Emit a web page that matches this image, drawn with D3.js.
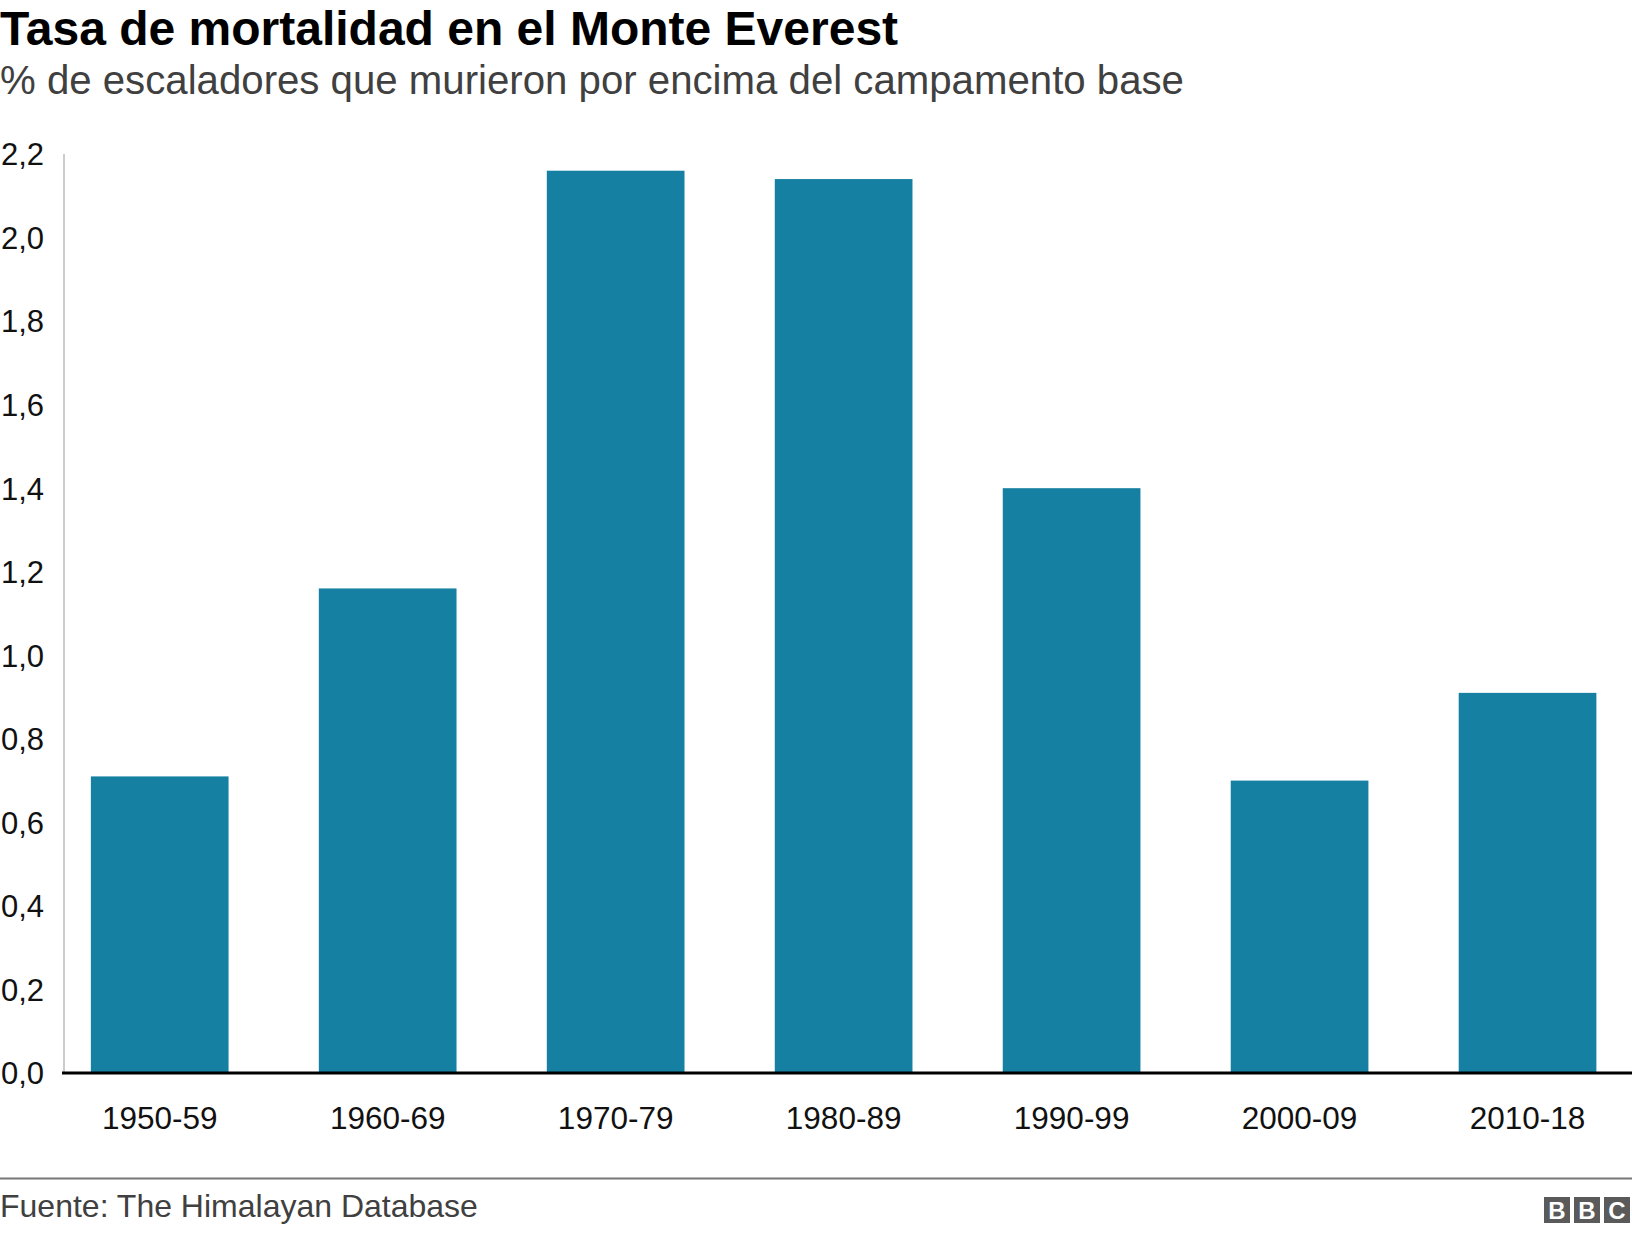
<!DOCTYPE html>
<html>
<head>
<meta charset="utf-8">
<script src="https://cdn.jsdelivr.net/npm/d3@7"></script>
<style>
  html, body { margin: 0; padding: 0; background: #fff; }
  svg { display: block; font-family: "Liberation Sans", Arial, Helvetica, sans-serif; }
</style>
</head>
<body>
<svg id="chart" width="1632" height="1234"></svg>
<script>
const categories = ["1950-59", "1960-69", "1970-79", "1980-89", "1990-99", "2000-09", "2010-18"];
const values = [0.71, 1.16, 2.16, 2.14, 1.40, 0.70, 0.91];
const yTicks = [0, 0.2, 0.4, 0.6, 0.8, 1.0, 1.2, 1.4, 1.6, 1.8, 2.0, 2.2];
const titleText = "Tasa de mortalidad en el Monte Everest";
const subtitleText = "% de escaladores que murieron por encima del campamento base";
const sourceText = "Fuente: The Himalayan Database";

const svg = d3.select("#chart");
const W = 1632;

const locale = d3.formatLocale({decimal: ",", thousands: ".", grouping: [3], currency: ["", "€"]});
const fmt = locale.format(".1f");

const x = d3.scaleBand().domain(categories).range([64, W])
  .paddingInner(0.396).paddingOuter(0.137).align(0.43);
const y = d3.scaleLinear().domain([0, 2.2]).range([1073, 154]);

// Title / subtitle
svg.append("text").attr("x", 0).attr("y", 45).text(titleText)
  .attr("font-size", 48).attr("font-weight", "bold").attr("fill", "#000");
svg.append("text").attr("x", 0).attr("y", 94).text(subtitleText)
  .attr("font-size", 40.2).attr("fill", "#404040");

// Y axis vertical line
svg.append("line").attr("x1", 64).attr("x2", 64).attr("y1", y(2.2)).attr("y2", y(0))
  .attr("stroke", "#cccccc").attr("stroke-width", 2);

// Y tick labels
const yAxis = d3.axisLeft(y).tickValues(yTicks).tickFormat(fmt).tickSize(0);
const yg = svg.append("g").attr("transform", "translate(1,0)").call(yAxis);
yg.select(".domain").remove();
yg.selectAll("text").attr("text-anchor", "start").attr("x", 0).attr("dy", "0.35em")
  .attr("font-size", 31).attr("fill", "#111").attr("font-family", null);

// Bars
svg.append("g").selectAll("rect").data(values).join("rect")
  .attr("x", (d, i) => x(categories[i]))
  .attr("width", x.bandwidth())
  .attr("y", d => y(d))
  .attr("height", d => y(0) - y(d))
  .attr("fill", "#1580A2");

// Baseline
svg.append("line").attr("x1", 62).attr("x2", W).attr("y1", y(0)).attr("y2", y(0))
  .attr("stroke", "#000").attr("stroke-width", 3);

// X labels
const xAxis = d3.axisBottom(x).tickSize(0);
const xg = svg.append("g").attr("transform", `translate(0,${y(0)})`).call(xAxis);
xg.select(".domain").remove();
xg.selectAll("text").attr("y", 56).attr("dy", null)
  .attr("font-size", 31.5).attr("fill", "#111").attr("font-family", null);

// Footer
svg.append("line").attr("x1", 0).attr("x2", W).attr("y1", 1178.5).attr("y2", 1178.5)
  .attr("stroke", "#777").attr("stroke-width", 2);
svg.append("text").attr("x", 0).attr("y", 1217).text(sourceText)
  .attr("font-size", 32).attr("fill", "#404040");

// BBC logo
const logo = svg.append("g");
["B", "B", "C"].forEach((c, i) => {
  const bx = 1544 + i * 30;
  logo.append("rect").attr("x", bx).attr("y", 1197).attr("width", 26).attr("height", 26).attr("fill", "#5a5a5a");
  logo.append("text").attr("x", bx + 13).attr("y", 1219).attr("text-anchor", "middle")
    .attr("font-size", 24).attr("font-weight", "bold").attr("fill", "#fff").text(c);
});
</script>
</body>
</html>
